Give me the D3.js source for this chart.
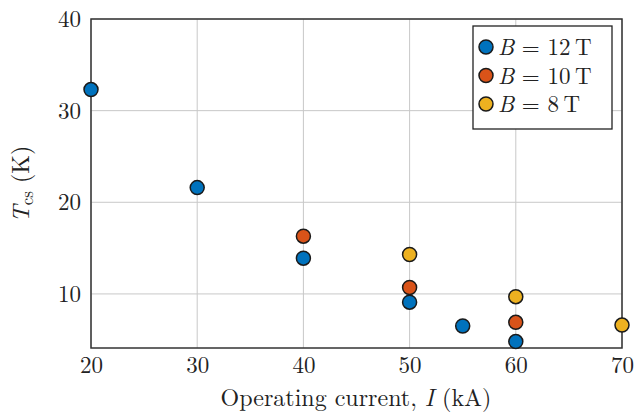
<!DOCTYPE html>
<html>
<head>
<meta charset="utf-8">
<script src="https://cdn.jsdelivr.net/npm/d3@7"></script>
<style>
  body { margin: 0; background: #fff; }
</style>
</head>
<body>
<div class="chart"></div>
<script>
// data
var xTicks = [20, 30, 40, 50, 60, 70];
var yTicks = [10, 20, 30, 40];
var seriesNames = ['12', '10', '8'];
var seriesColors = ['#0072BD', '#D95319', '#EDB120'];
var b12 = [[20, 32.3], [30, 21.6], [40, 13.9], [50, 9.1], [55, 6.5], [60, 4.8]];
var b10 = [[40, 16.3], [50, 10.7], [60, 6.9]];
var b8 = [[50, 14.3], [60, 9.7], [70, 6.6]];
var allSeries = [b12, b10, b8];

var FONT = "'Latin Modern Roman', 'Liberation Serif', serif";

var margin = { top: 19, right: 13, bottom: 68, left: 91 };
var width = 635 - margin.left - margin.right;
var height = 416 - margin.top - margin.bottom;

var svg = d3.select('.chart')
  .append('svg')
    .attr('width', 635)
    .attr('height', 416)
    .style('font-family', FONT)
  .append('g')
    .attr('transform', 'translate(' + margin.left + ', ' + margin.top + ')');

var xScale = d3.scaleLinear().domain([20, 70]).range([0, width]);
var yScale = d3.scaleLinear().domain([4.1, 40]).range([height, 0]);

// grid
svg.append('g')
  .selectAll('line')
  .data(xTicks)
  .enter().append('line')
    .attr('x1', d => xScale(d)).attr('x2', d => xScale(d))
    .attr('y1', 0).attr('y2', height)
    .attr('stroke', '#c8c8c8').attr('stroke-width', 1);
svg.append('g')
  .selectAll('line')
  .data(yTicks)
  .enter().append('line')
    .attr('y1', d => yScale(d)).attr('y2', d => yScale(d))
    .attr('x1', 0).attr('x2', width)
    .attr('stroke', '#c8c8c8').attr('stroke-width', 1);

// axes (labels only, frame drawn separately)
var xAxis = d3.axisBottom(xScale).tickValues(xTicks).tickSize(0).tickPadding(9);
var gx = svg.append('g')
  .attr('transform', `translate(0, ${height})`)
  .call(xAxis);
var yAxis = d3.axisLeft(yScale).tickValues(yTicks).tickSize(0).tickPadding(10);
var gy = svg.append('g').call(yAxis);
[gx, gy].forEach(function (g) {
  g.attr('font-family', FONT).attr('font-size', 23);
  g.select('.domain').remove();
  g.selectAll('text')
    .attr('font-family', FONT)
    .attr('fill', '#222');
});

svg.append('rect')
  .attr('width', width).attr('height', height)
  .attr('fill', 'none').attr('stroke', '#333').attr('stroke-width', 1.5);

// points
allSeries.forEach(function (s, i) {
  svg.append('g')
    .selectAll('circle')
    .data(s)
    .enter().append('circle')
      .attr('cx', d => xScale(d[0]))
      .attr('cy', d => yScale(d[1]))
      .attr('r', 7)
      .attr('fill', seriesColors[i])
      .attr('stroke', '#1a1a1a')
      .attr('stroke-width', 1.5);
});

// legend
var legend = svg.append('g')
  .attr('transform', 'translate(' + (473 - margin.left) + ', ' + (26 - margin.top) + ')');
legend.append('rect')
  .attr('width', 139).attr('height', 103)
  .attr('fill', '#fff').attr('stroke', '#222').attr('stroke-width', 1.3);
seriesNames.forEach(function (n, i) {
  var row = legend.append('g').attr('transform', 'translate(0, ' + (21 + i * 28.5) + ')');
  row.append('circle')
    .attr('cx', 13).attr('cy', 0).attr('r', 7)
    .attr('fill', seriesColors[i]).attr('stroke', '#1a1a1a').attr('stroke-width', 1.5);
  var t = row.append('text')
    .attr('x', 25).attr('y', 8)
    .attr('font-family', FONT).attr('font-size', 23).attr('fill', '#222');
  t.append('tspan').attr('font-style', 'italic').text('B');
  t.append('tspan').text(' = ' + n + '\u2009T');
});

// axis titles
svg.append('text')
  .attr('x', (217 + 495) / 2 - margin.left).attr('y', 406 - margin.top)
  .attr('text-anchor', 'middle')
  .attr('font-family', FONT).attr('font-size', 24).attr('fill', '#222')
  .call(function (t) {
    t.append('tspan').text('Operating current, ');
    t.append('tspan').attr('font-style', 'italic').text('I');
    t.append('tspan').text(' (kA)');
  });

svg.append('text')
  .attr('transform', 'translate(' + (29 - margin.left) + ', ' + (184 - margin.top) + ') rotate(-90)')
  .attr('text-anchor', 'middle')
  .attr('font-family', FONT).attr('font-size', 24).attr('fill', '#222')
  .call(function (t) {
    t.append('tspan').attr('font-style', 'italic').text('T');
    t.append('tspan').attr('font-size', 17).attr('dy', 4).text('cs');
    t.append('tspan').attr('dy', -4).text(' (K)');
  });
</script>
</body>
</html>
